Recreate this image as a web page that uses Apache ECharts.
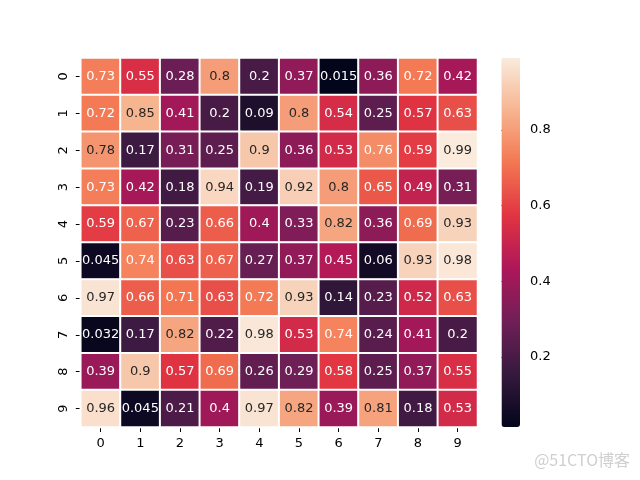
<!DOCTYPE html>
<html>
<head>
<meta charset="utf-8">
<script src="https://cdn.jsdelivr.net/npm/echarts@6/dist/echarts.min.js"></script>
<style>html,body{margin:0;padding:0;background:#fff}#c{width:640px;height:480px}</style>
</head>
<body>
<div id="c"></div>
<script>
const xLabels = ['0','1','2','3','4','5','6','7','8','9'];
const yLabels = ['0','1','2','3','4','5','6','7','8','9'];
const row0 = [0.73, 0.55, 0.28, 0.8, 0.2, 0.37, 0.015, 0.36, 0.72, 0.42];
const row1 = [0.72, 0.85, 0.41, 0.2, 0.09, 0.8, 0.54, 0.25, 0.57, 0.63];
const row2 = [0.78, 0.17, 0.31, 0.25, 0.9, 0.36, 0.53, 0.76, 0.59, 0.99];
const row3 = [0.73, 0.42, 0.18, 0.94, 0.19, 0.92, 0.8, 0.65, 0.49, 0.31];
const row4 = [0.59, 0.67, 0.23, 0.66, 0.4, 0.33, 0.82, 0.36, 0.69, 0.93];
const row5 = [0.045, 0.74, 0.63, 0.67, 0.27, 0.37, 0.45, 0.06, 0.93, 0.98];
const row6 = [0.97, 0.66, 0.71, 0.63, 0.72, 0.93, 0.14, 0.23, 0.52, 0.63];
const row7 = [0.032, 0.17, 0.82, 0.22, 0.98, 0.53, 0.74, 0.24, 0.41, 0.2];
const row8 = [0.39, 0.9, 0.57, 0.69, 0.26, 0.29, 0.58, 0.25, 0.37, 0.55];
const row9 = [0.96, 0.045, 0.21, 0.4, 0.97, 0.82, 0.39, 0.81, 0.18, 0.53];
const rows = [row0,row1,row2,row3,row4,row5,row6,row7,row8,row9];
const colorbarTicks = [0.2, 0.4, 0.6, 0.8];
const vmin = 0.015, vmax = 0.99;

const rocket = ['#03051a','#35193e','#701f57','#ad1759','#e13342','#f37651','#f6b48f','#faebdd'];

const data = [];
rows.forEach((r, i) => r.forEach((v, j) => data.push([j, i, v])));

const FONT = 'DejaVu Sans';
const chart = echarts.init(document.getElementById('c'), null, {renderer: 'canvas'});
chart.setOption({
  animation: false,
  backgroundColor: '#fff',
  textStyle: {fontFamily: FONT},
  grid: [
    {left: 80.8, top: 58, width: 396.7, height: 369},
    {left: 501.5, top: 58, width: 18.5, height: 369}
  ],
  xAxis: [
    {type: 'category', gridIndex: 0, data: xLabels,
     axisLine: {show: false}, splitLine: {show: false},
     axisTick: {show: true, alignWithLabel: true, length: 5, lineStyle: {color: '#000', width: 1}},
     axisLabel: {color: '#000', fontSize: 13, fontFamily: FONT, margin: 10}},
    {type: 'value', gridIndex: 1, show: false, min: 0, max: 1}
  ],
  yAxis: [
    {type: 'category', gridIndex: 0, data: yLabels, inverse: true,
     axisLine: {show: false}, splitLine: {show: false},
     axisTick: {show: true, alignWithLabel: true, length: 5, lineStyle: {color: '#000', width: 1}},
     axisLabel: {color: '#000', fontSize: 13, fontFamily: FONT, rotate: 90, margin: 11}},
    {type: 'value', gridIndex: 1, position: 'right', min: vmin, max: vmax,
     axisLine: {show: false}, splitLine: {show: false},
     axisTick: {show: true, length: 5, customValues: colorbarTicks, lineStyle: {color: '#000', width: 1}},
     axisLabel: {color: '#000', fontSize: 13, fontFamily: FONT, margin: 10, customValues: colorbarTicks,
                 formatter: v => v.toFixed(1)}}
  ],
  visualMap: {
    type: 'continuous', show: true, seriesIndex: 0,
    min: vmin, max: vmax, orient: 'vertical',
    left: 501.5, top: 58, itemWidth: 18.5, itemHeight: 369,
    calculable: false, hoverLink: false, padding: 0, text: null,
    inRange: {color: rocket}
  },
  series: [
    {type: 'heatmap', xAxisIndex: 0, yAxisIndex: 0, data: data,
     itemStyle: {borderColor: '#fff', borderWidth: 2},
     emphasis: {disabled: true},
     label: {show: true, fontSize: 13, fontFamily: FONT,
       formatter: p => (p.value[2] >= 0.77 ? '{d|' : '{l|') + String(p.value[2]) + '}',
       rich: {d: {color: '#262626', fontSize: 13, fontFamily: FONT}, l: {color: '#fff', fontSize: 13, fontFamily: FONT}}}},
    {type: 'line', xAxisIndex: 1, yAxisIndex: 1, data: [], silent: true}
  ],
  graphic: [
    {type: 'text', right: 10, top: 452,
     style: {text: '@51CTO博客', fill: '#cfcfcf', font: '16px "Noto Sans CJK SC", sans-serif'}}
  ]
});
</script>
</body>
</html>
